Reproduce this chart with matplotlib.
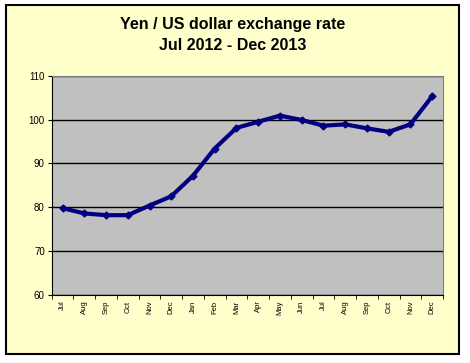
import matplotlib
matplotlib.use('Agg')
import matplotlib.pyplot as plt
from matplotlib.patches import Rectangle

# Dữ liệu tỷ giá Yên / USD
months = ['Jul', 'Aug', 'Sep', 'Oct', 'Nov', 'Dec', 'Jan', 'Feb', 'Mar',
          'Apr', 'May', 'Jun', 'Jul', 'Aug', 'Sep', 'Oct', 'Nov', 'Dec']
rates = [79.8, 78.6, 78.2, 78.2, 80.4, 82.5, 87.2, 93.4, 98.1,
         99.5, 100.9, 99.9, 98.6, 98.9, 98.0, 97.2, 98.9, 105.3]

W, H = 470, 363
fig = plt.figure(figsize=(4.7, 3.63), dpi=100)
fig.patch.set_facecolor('white')

# Khung biểu đồ màu vàng nhạt
fig.patches.append(Rectangle((6 / W, 1 - 354 / H), (459 - 6) / W, (354 - 4.5) / H,
                             transform=fig.transFigure, facecolor='#FFFFCC',
                             edgecolor='black', linewidth=1.5, zorder=-1))

ax = fig.add_axes([51.7 / W, 1 - 295 / H, (443 - 51.7) / W, (295 - 75.7) / H])
ax.set_facecolor('#C0C0C0')

x = list(range(len(months)))
ax.plot(x, rates, color='#000080', linewidth=3, marker='D', markersize=3.5,
        zorder=3)

ax.set_xlim(-0.5, len(months) - 0.5)
ax.set_ylim(60, 110)
ax.set_yticks([60, 70, 80, 90, 100, 110])
ax.set_yticklabels(['60', '70', '80', '90', '100', '110'], fontsize=7,
                   family='Liberation Sans')
ax.set_xticks(x)
ax.set_xticklabels(months, rotation=90, fontsize=5.5, family='Liberation Sans')
ax.set_xticks([i - 0.5 for i in range(len(months) + 1)], minor=True)
ax.tick_params(axis='x', which='major', length=0, pad=4)
ax.tick_params(axis='x', which='minor', length=3, direction='out')
ax.tick_params(axis='y', length=3, direction='out', pad=2)

ax.grid(axis='y', color='black', linewidth=1)
ax.set_axisbelow(True)
for side in ['top', 'right']:
    ax.spines[side].set_color('#808080')
for side in ['left', 'bottom']:
    ax.spines[side].set_color('black')

fig.text(233 / W, 1 - 25 / H, 'Yen / US dollar exchange rate', ha='center',
         va='center', fontsize=11.5, fontweight='bold', family='Liberation Sans')
fig.text(233 / W, 1 - 45 / H, 'Jul 2012 - Dec 2013', ha='center',
         va='center', fontsize=11.5, fontweight='bold', family='Liberation Sans')

fig.savefig('out.png', dpi=100)
